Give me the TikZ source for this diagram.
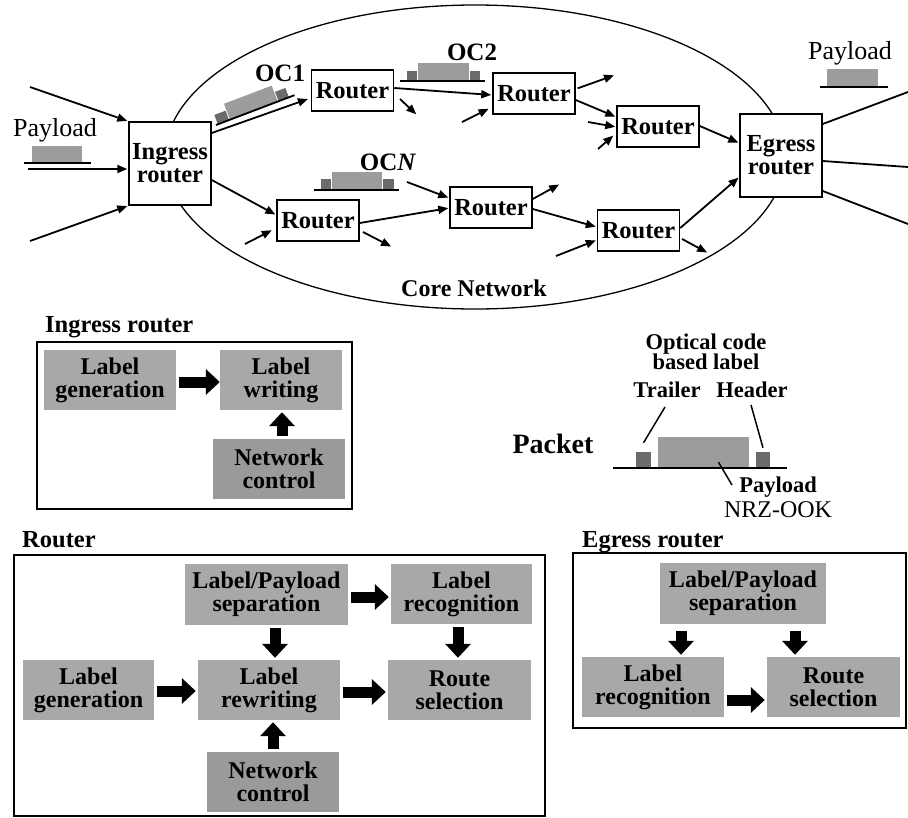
\documentclass[tikz,border=0pt]{standalone}
\usepackage{fontspec}
\setmainfont{Liberation Serif}
\usetikzlibrary{arrows.meta,calc}
\definecolor{blk}{HTML}{A8A8A8}
\definecolor{blkd}{HTML}{9A9A9A}
\definecolor{pkl}{HTML}{9C9C9C}
\definecolor{pkd}{HTML}{6B6B6B}
\begin{document}
\begin{tikzpicture}[x=1pt,y=-1pt,
  rbox/.style={draw,fill=white,line width=1.5pt,minimum width=82pt,minimum height=41pt,inner sep=0pt,align=center,font=\fontsize{24.5}{23}\selectfont\bfseries},
  bigbox/.style={rbox,minimum height=83pt},
  con/.style={line width=1.8pt,-{Triangle[length=10pt,width=8pt]},shorten >=1pt},
  plain/.style={line width=1.8pt},
  gbox/.style={fill=blk,inner sep=0pt,align=center,font=\fontsize{24}{23}\selectfont\bfseries},
  gboxd/.style={gbox,fill=blkd},
  barrow/.style={line width=11pt,-{Triangle[length=14pt,width=25pt]},shorten <=3pt,shorten >=2pt},
  ttl/.style={inner sep=0pt,anchor=west,font=\fontsize{24.5}{24}\selectfont\bfseries},
  txt/.style={inner sep=0pt,align=center,font=\fontsize{22.5}{20.5}\selectfont\bfseries},
  ocl/.style={inner sep=0pt,font=\fontsize{25}{25}\selectfont\bfseries},
  pay/.style={inner sep=0pt,font=\fontsize{26}{26}\selectfont},
  lead/.style={line width=1.5pt},
  pkline/.style={line width=1.8pt}]
\useasboundingbox (0,0) rectangle (908,817);

% core network ellipse
\draw[line width=1.3pt] (475,157) ellipse [x radius=310, y radius=152];
\node[inner sep=0pt,font=\fontsize{24}{24}\selectfont\bfseries] (core) at (474,288) {Core Network};

% routers
\node[bigbox] (I) at (170,163.5) {Ingress\\router};
\node[bigbox] (E) at (781,155.5) {Egress\\router};
\node[rbox] (R1) at (352.5,90.5) {Router};
\node[rbox] (R2) at (534,93.5) {Router};
\node[rbox] (R3) at (658,126.5) {Router};
\node[rbox] (B1) at (318,220.5) {Router};
\node[rbox] (B2) at (491,207.5) {Router};
\node[rbox] (B3) at (638.5,230.5) {Router};

% free ends
\coordinate (a1) at (30,87);
\coordinate (a2) at (28,169);
\coordinate (a3) at (30,241);
\coordinate (o1s) at (400,99);
\coordinate (o1e) at (417,115);
\coordinate (i2) at (462,122);
\coordinate (o2) at (615,75);
\coordinate (i3a) at (588,122);
\coordinate (i3b) at (598,149);
\coordinate (ib1) at (245,244);
\coordinate (ob1s) at (363,232);
\coordinate (ob1e) at (392,247);
\coordinate (ib2) at (407,182);
\coordinate (ob2) at (560,184);
\coordinate (ib3) at (556,256);
\coordinate (ob3) at (708,253);
\coordinate (e1) at (908,92);
\coordinate (e2) at (908,167);
\coordinate (e3) at (908,224);

% connectors
\draw[con] (a1) -- (I.north west);
\draw[con] (a2) -- (I.west |- a2);
\draw[con] (a3) -- (I.south west);
\draw[con,shorten >=3pt] (I.east |- 0,133) -- (R1.west |- 0,98);
\draw[con] (I.east |- 0,180) -- (B1.west |- 0,215);
\draw[con] (R1.east |- 0,88) -- (R2.west |- 0,95);
\draw[con] (o1s) -- (o1e);
\draw[con,shorten >=4pt] (i2) -- (R2.west |- 0,107);
\draw[con,shorten <=2pt] (R2.east |- 0,89) -- (o2);
\draw[con] (R2.east |- 0,100) -- (R3.west |- 0,117);
\draw[con] (i3a) -- (R3.west |- 0,127);
\draw[con,shorten >=4pt] (i3b) -- (R3.west |- 0,133);
\draw[con] (R3.east |- 0,126) -- (E.west |- 0,143);
\draw[con,shorten >=5pt] (ib1) -- (B1.west |- 0,228);
\draw[con] (ob1s) -- (ob1e);
\draw[con] (B1.east |- 0,223) -- (B2.west |- 0,208);
\draw[con] (ib2) -- (B2.west |- 0,198);
\draw[con] (B2.east |- 0,199) -- (ob2);
\draw[con] (B2.east |- 0,209) -- (B3.west |- 0,227);
\draw[con] (ib3) -- (B3.west |- 0,240);
\draw[con,shorten <=2pt] (B3.east |- 0,238) -- (ob3);
\draw[con] (B3.east |- 0,228) -- (E.west |- 0,177);
\draw[plain] (E.east |- 0,124) -- (e1);
\draw[plain] (E.east |- 0,161) -- (e2);
\draw[plain] (E.east |- 0,191) -- (e3);

% payload left / right
\node[pay] (payL) at (55,130) {Payload};
\fill[pkl] (32,146) rectangle (82,162);
\draw[pkline] (24,163) -- (91,163);
\node[pay] (payR) at (850,53) {Payload};
\fill[pkl] (827,69) rectangle (878,86);
\draw[pkline] (820,87) -- (888,87);

% OC labels and packets
\node[ocl] (oc1) at (280,73) {OC1};
\node[ocl] (oc2) at (472,52) {OC2};
\node[ocl] (ocn) at (388,162) {OC\textit{N}};
\begin{scope}[shift={(216,125)},rotate=20.8]
  \fill[pkd] (2,0) rectangle (14,-10);
  \fill[pkl] (15,0) rectangle (66,-17);
  \fill[pkd] (67,0) rectangle (78,-10);
  \draw[pkline] (0,0) -- (84,0);
\end{scope}
\fill[pkd] (407,71) rectangle (417,81);
\fill[pkl] (418,63) rectangle (469,81);
\fill[pkd] (470,71) rectangle (480,81);
\draw[pkline] (400,81) -- (485,81);
\fill[pkd] (321,179) rectangle (331,190);
\fill[pkl] (332,172) rectangle (382,190);
\fill[pkd] (383,179) rectangle (394,190);
\draw[pkline] (314,190) -- (399,190);

% packet detail
\node[txt] (ocb) at (706,352) {Optical code\\based label};
\node[txt] (tr) at (667,390) {Trailer};
\node[txt] (hd) at (752,390) {Header};
\node[inner sep=0pt,font=\fontsize{28}{28}\selectfont\bfseries] (pk) at (553,444) {Packet};
\node[fill=pkd,inner sep=0pt,minimum width=15pt,minimum height=16pt] (dkL) at (643.5,460) {};
\node[fill=pkl,inner sep=0pt,minimum width=91pt,minimum height=31pt] (lt) at (703.5,452.5) {};
\node[fill=pkd,inner sep=0pt,minimum width=14pt,minimum height=16pt] (dkR) at (763,460) {};
\draw[pkline] (613,468) -- (787,468);
\node[txt] (pp) at (778,487) {Payload};
\node[inner sep=0pt,font=\fontsize{24}{24}\selectfont] (nrz) at (778,510) {NRZ-OOK};
\coordinate (trA) at (665,407);
\coordinate (hdA) at (751,405);
\coordinate (ppA) at (732,485);
\draw[lead] (trA) -- ($(dkL.north)+(0,-9)$);
\draw[lead] (hdA) -- ($(dkR.north)+(0,-4)$);
\draw[lead] ($(lt.south)+(15,-6)$) -- (ppA);

% Ingress router block
\node[ttl] (tI) at (45,327) {Ingress router};
\draw[line width=1.8pt] (37,342) rectangle (352,509);
\node[gbox,minimum width=132pt,minimum height=60pt] (IG) at (110,380) {Label\\generation};
\node[gbox,minimum width=122pt,minimum height=60pt] (IW) at (281,380) {Label\\writing};
\node[gboxd,minimum width=132pt,minimum height=60pt] (IN) at (279,469) {Network\\control};
\draw[barrow,shorten >=0pt] (IG.east |- 0,382) -- (IW.west |- 0,382);
\draw[barrow] (IN.north -| 282,0) -- (IW.south -| 282,0);

% Router block
\node[ttl] (tR) at (22,540) {Router};
\draw[line width=1.8pt] (14,555) rectangle (545,816);
\node[gbox,minimum width=131pt,minimum height=60pt] (RG) at (88.5,690) {Label\\generation};
\node[gbox,minimum width=163pt,minimum height=61pt] (RS) at (266.5,594.5) {Label/Payload\\separation};
\node[gbox,minimum width=142pt,minimum height=60pt] (RR) at (269,690) {Label\\rewriting};
\node[gboxd,minimum width=132pt,minimum height=60pt] (RN) at (273,782) {Network\\control};
\node[gbox,minimum width=141pt,minimum height=60pt] (RC) at (461.5,594) {Label\\recognition};
\node[gbox,minimum width=143pt,minimum height=60pt] (RT) at (459.5,690) {Route\\selection};
\draw[barrow] (RG.east |- 0,691) -- (RR.west |- 0,691);
\draw[barrow] (RS.south -| 275,0) -- (RR.north -| 275,0);
\draw[barrow] (RN.north -| 273,0) -- (RR.south -| 273,0);
\draw[barrow] (RS.east |- 0,597) -- (RC.west |- 0,597);
\draw[barrow] (RC.south -| 458,0) -- (RT.north -| 458,0);
\draw[barrow] (RR.east |- 0,692) -- (RT.west |- 0,692);

% Egress router block
\node[ttl] (tE) at (582,542) {Egress router};
\draw[line width=1.8pt] (573,553) rectangle (906,728);
\node[gbox,minimum width=166pt,minimum height=61pt] (ES) at (743,593.5) {Label/Payload\\separation};
\node[gbox,minimum width=142pt,minimum height=60pt] (EC) at (653,687) {Label\\recognition};
\node[gbox,minimum width=133pt,minimum height=60pt] (ET) at (833.5,687) {Route\\selection};
\draw[barrow,shorten <=7pt] (ES.south -| 681,0) -- (EC.north -| 681,0);
\draw[barrow,shorten <=7pt] (ES.south -| 795,0) -- (ET.north -| 795,0);
\draw[barrow] (EC.east |- 0,700) -- (ET.west |- 0,700);
\end{tikzpicture}
\end{document}
